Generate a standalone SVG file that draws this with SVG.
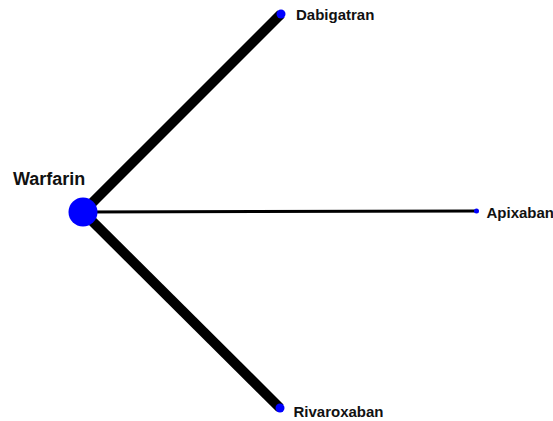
<svg xmlns="http://www.w3.org/2000/svg" width="553" height="421" viewBox="0 0 553 421">
<style>
.lbl{font-family:"Liberation Sans",Arial,sans-serif;font-weight:bold;fill:#111;font-size:15px}
.node{fill:#0000ff}
.edge{stroke:#000;stroke-linecap:butt;fill:none}
</style>
<rect width="553" height="421" fill="#fff"/>
<g id="connectors">
<line class="edge" x1="83" y1="212" x2="281" y2="14" stroke-width="10"/>
<line class="edge" x1="83" y1="212" x2="476" y2="211" stroke-width="3"/>
<line class="edge" x1="83" y1="212" x2="280" y2="408" stroke-width="10"/>
</g>
<g id="warfarin">
<circle class="node" cx="83" cy="212" r="14.5"/>
<text class="lbl" x="13" y="185" style="font-size:18px">Warfarin</text>
</g>
<g id="dabigatran">
<circle class="node" cx="281" cy="14" r="4.5"/>
<text class="lbl" x="296" y="20">Dabigatran</text>
</g>
<g id="apixaban">
<circle class="node" cx="476.5" cy="211" r="2.5"/>
<text class="lbl" x="486.5" y="217.5">Apixaban</text>
</g>
<g id="rivaroxaban">
<circle class="node" cx="280" cy="408" r="4.5"/>
<text class="lbl" x="293.5" y="416.5">Rivaroxaban</text>
</g>
</svg>
